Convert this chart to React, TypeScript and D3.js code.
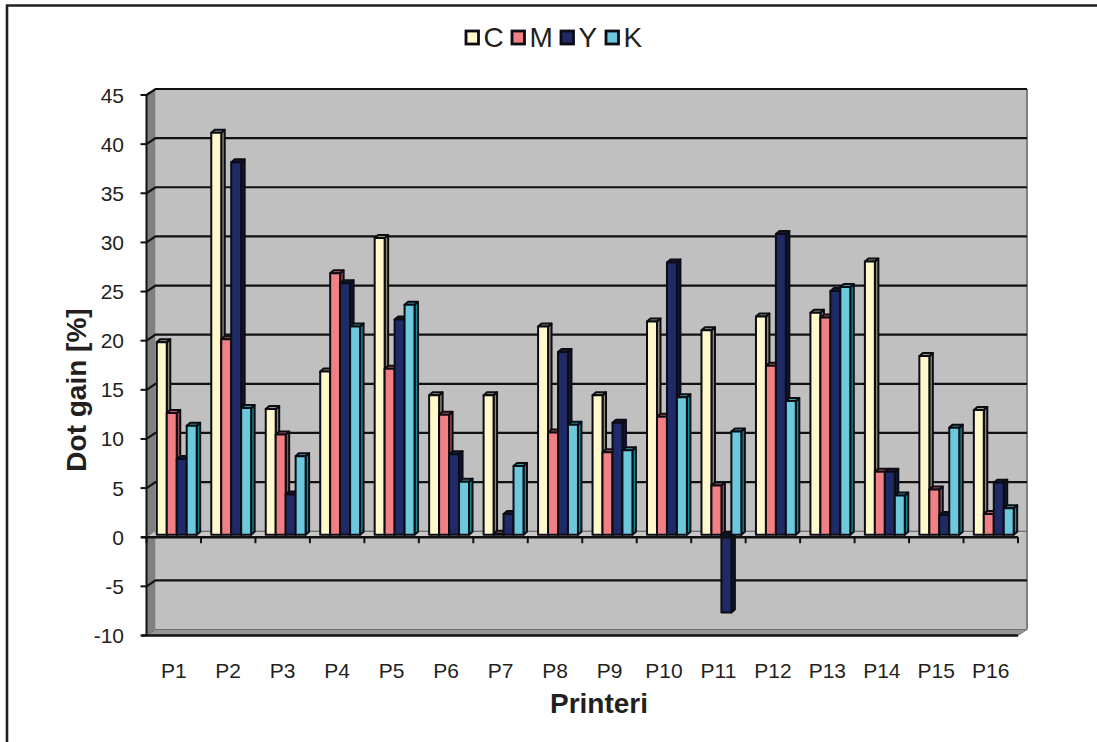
import { useEffect, useRef } from "react";
import * as d3 from "d3";

const printers = ["P1", "P2", "P3", "P4", "P5", "P6", "P7", "P8", "P9", "P10", "P11", "P12", "P13", "P14", "P15", "P16"];
const inks = ["C", "M", "Y", "K"];
const cValues = [19.7, 41, 12.9, 16.7, 30.3, 14.3, 14.3, 21.3, 14.3, 21.8, 20.9, 22.3, 22.7, 27.9, 18.3, 12.8];
const mValues = [12.5, 20, 10.3, 26.7, 17, 12.3, 0.2, 10.5, 8.5, 12.1, 5.1, 17.3, 22.2, 6.5, 4.7, 2.2];
const yValues = [7.8, 38, 4.2, 25.7, 22, 8.3, 2.2, 18.7, 11.5, 27.8, -7.8, 30.7, 24.9, 6.5, 2.1, 5.4];
const kValues = [11.2, 13, 8.1, 21.3, 23.5, 5.5, 7.1, 11.3, 8.7, 14.1, 10.6, 13.7, 25.3, 4.1, 11, 2.8];
const yTicks = [45, 40, 35, 30, 25, 20, 15, 10, 5, 0, -5, -10];

const series = [cValues, mValues, yValues, kValues];
const fronts = ["#fff9cc", "#f08084", "#1f2a66", "#6cc8dc"];
const tops = ["#9a9a78", "#c05c60", "#141c44", "#2f9ea0"];
const sides = ["#8f8c6e", "#a04c50", "#111738", "#0f8f8f"];

const FONT = "'Liberation Sans', Arial, sans-serif";
const INK = "#231f20";

export default function App() {
  const svgRef = useRef<SVGSVGElement>(null);

  useEffect(() => {
    if (!svgRef.current) return;
    const svg = d3.select(svgRef.current);
    svg.selectAll("*").remove();

    const left = 146.5;
    const right = 1018;
    const depthX = 9;
    const depthY = 6;
    const yScale = d3.scaleLinear().domain([-10, 45]).range([635.5, 95]);
    const xScale = d3.scaleBand().domain(printers).range([left, right]).paddingInner(0).paddingOuter(0);
    const inner = d3.scaleBand().domain(inks).range([7.3, xScale.bandwidth() - 7.3]);
    const y0 = yScale(0);
    const yTop = yScale(45);
    const yBot = yScale(-10);

    // outer frame
    svg.append("path").attr("d", "M7,742V5.5H1097").attr("fill", "none").attr("stroke", INK).attr("stroke-width", 2.6);

    // walls
    svg.append("rect").attr("x", left + depthX).attr("y", yTop - depthY).attr("width", right - left).attr("height", yBot - yTop).attr("fill", "#c0c0c0");
    svg.append("path")
      .attr("d", `M${left},${yTop}L${left + depthX},${yTop - depthY}V${yBot - depthY}L${left},${yBot}Z`)
      .attr("fill", "#808080");
    svg.append("path")
      .attr("d", `M${left},${yBot}L${left + depthX},${yBot - depthY}H${right + depthX}L${right},${yBot}Z`)
      .attr("fill", "#969696")
      .attr("stroke", "#707070")
      .attr("stroke-width", 1);
    svg.append("path")
      .attr("d", `M${right + depthX},${yTop - depthY}V${yBot - depthY}`)
      .attr("stroke", "#808080")
      .attr("stroke-width", 2);

    // gridlines
    yTicks.filter((t) => t !== -10 && t !== 0).forEach((t) => {
      const y = yScale(t);
      svg.append("path")
        .attr("d", `M${left},${y}L${left + depthX},${y - depthY}H${right + depthX}`)
        .attr("fill", "none")
        .attr("stroke", "#111")
        .attr("stroke-width", 2.2);
    });

    // floor at zero
    svg.append("path")
      .attr("d", `M${left},${y0}L${left + depthX},${y0 - depthY}H${right + depthX}L${right},${y0}Z`)
      .attr("fill", "#c8c8c8");
    svg.append("line").attr("x1", left + depthX).attr("x2", right + depthX).attr("y1", y0 - depthY).attr("y2", y0 - depthY).attr("stroke", "#555").attr("stroke-width", 1.2);

    // bars
    const dx = 3;
    const dy = 1.5;
    const bx = 3.5;
    const by = 3;
    const base = y0 - 2.5;
    printers.forEach((p, i) => {
      inks.forEach((ink, s) => {
        const x = (xScale(p) as number) + (inner(ink) as number) + dx;
        const w = inner.bandwidth();
        const v = series[s][i];
        const yA = v >= 0 ? Math.min(yScale(v) - dy, base) : base;
        const yB = v >= 0 ? base : yScale(v) - dy;
        const g = svg.append("g").attr("stroke", "#0c0c14").attr("stroke-width", 2).attr("stroke-linejoin", "round");
        g.append("path").attr("d", `M${x + w},${yA}l${bx},${-by}V${yB - by}l${-bx},${by}Z`).attr("fill", sides[s]);
        g.append("path").attr("d", `M${x},${yA}l${bx},${-by}h${w}l${-bx},${by}Z`).attr("fill", tops[s]);
        g.append("rect").attr("x", x).attr("y", yA).attr("width", w).attr("height", yB - yA).attr("fill", fronts[s]);
      });
    });

    // axis lines and ticks
    const ax = svg.append("g").attr("stroke", "#111").attr("fill", "none");
    ax.append("line").attr("x1", left).attr("x2", left).attr("y1", yTop).attr("y2", yBot).attr("stroke-width", 2);
    ax.append("line").attr("x1", left - 5).attr("x2", right).attr("y1", y0).attr("y2", y0).attr("stroke-width", 2.6);
    ax.append("line").attr("x1", left - 5).attr("x2", right).attr("y1", yBot).attr("y2", yBot).attr("stroke-width", 2.6);
    yTicks.forEach((t) => {
      ax.append("line").attr("x1", left - 6).attr("x2", left).attr("y1", yScale(t)).attr("y2", yScale(t)).attr("stroke-width", 2);
    });
    printers.concat("").forEach((p, i) => {
      const x = left + i * xScale.bandwidth();
      ax.append("line").attr("x1", x).attr("x2", x).attr("y1", y0).attr("y2", y0 + 6).attr("stroke-width", 2);
    });

    // tick labels
    svg.append("g").selectAll("text").data(yTicks).join("text")
      .attr("x", 124)
      .attr("y", (d) => yScale(d) + 7.5)
      .attr("text-anchor", "end")
      .attr("font-family", FONT).attr("font-size", 21).attr("fill", INK)
      .text((d) => d);
    svg.append("g").selectAll("text").data(printers).join("text")
      .attr("x", (d) => (xScale(d) as number) + xScale.bandwidth() / 2)
      .attr("y", 678)
      .attr("text-anchor", "middle")
      .attr("font-family", FONT).attr("font-size", 21).attr("fill", INK)
      .text((d) => d);

    // axis titles
    svg.append("text")
      .attr("x", 599).attr("y", 713)
      .attr("text-anchor", "middle")
      .attr("font-family", FONT).attr("font-size", 28).attr("font-weight", "bold").attr("fill", INK)
      .text("Printeri");
    svg.append("text")
      .attr("transform", "translate(85.5,390) rotate(-90)")
      .attr("text-anchor", "middle")
      .attr("font-family", FONT).attr("font-size", 28).attr("font-weight", "bold").attr("fill", INK)
      .text("Dot gain [%]");

    // legend
    const legendX = [466, 512, 561, 606];
    inks.forEach((ink, s) => {
      svg.append("rect").attr("x", legendX[s]).attr("y", 31).attr("width", 12.5).attr("height", 13)
        .attr("fill", fronts[s]).attr("stroke", "#0c0c14").attr("stroke-width", 2.8);
      svg.append("text").attr("x", legendX[s] + 17.5).attr("y", 47)
        .attr("font-family", FONT).attr("font-size", 28).attr("fill", INK)
        .text(ink);
    });
  }, []);

  return (
    <svg
      ref={svgRef}
      width={1097}
      height={742}
      style={{ position: "fixed", left: 0, top: 0, background: "#fff" }}
    />
  );
}
